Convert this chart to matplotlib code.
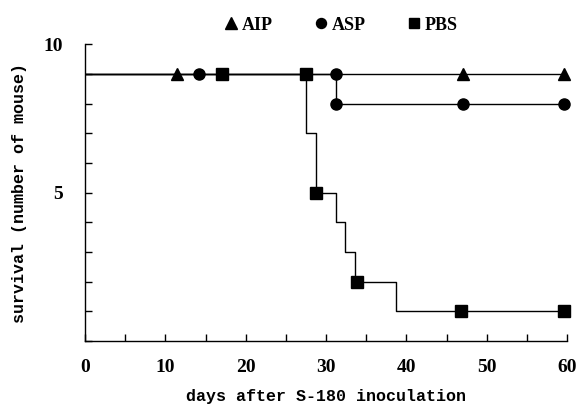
import matplotlib
matplotlib.use("Agg")
import matplotlib.pyplot as plt
from matplotlib.ticker import MultipleLocator

# Step curves (days, number of surviving mice)
aip_times = [0, 60]
aip_surv = [9, 9]
asp_times = [0, 31.2, 60]
asp_surv = [9, 8, 8]
pbs_times = [0, 27.5, 28.7, 31.2, 32.4, 33.6, 38.7, 60]
pbs_surv = [9, 7, 5, 4, 3, 2, 1, 1]

# Marker positions
aip_mark_x = [11.5, 47.0, 59.6]
aip_mark_y = [9, 9, 9]
asp_mark_x = [14.2, 31.2, 31.2, 47.0, 59.6]
asp_mark_y = [9, 9, 8, 8, 8]
pbs_mark_x = [17.1, 27.5, 28.8, 33.8, 46.8, 59.6]
pbs_mark_y = [9, 9, 5, 2, 1, 1]

labels = ["AIP", "ASP", "PBS"]
xticks = [0, 10, 20, 30, 40, 50, 60]
yticks = [5, 10]

fig = plt.figure(figsize=(5.76, 4.19), dpi=100)
ax = fig.add_axes([85/576, 1 - 341/419, (567 - 85)/576, (341 - 44.5)/419])

lw = 1.0
ax.step(aip_times, aip_surv, where="post", color="black", lw=lw)
ax.step(asp_times, asp_surv, where="post", color="black", lw=lw)
ax.step(pbs_times, pbs_surv, where="post", color="black", lw=lw)

h1, = ax.plot(aip_mark_x, aip_mark_y, "^", color="black", ms=9, ls="none", clip_on=False)
h2, = ax.plot(asp_mark_x, asp_mark_y, "o", color="black", ms=8, ls="none", clip_on=False)
h3, = ax.plot(pbs_mark_x, pbs_mark_y, "s", color="black", ms=8.5, ls="none", clip_on=False)

ax.set_xlim(0, 60)
ax.set_ylim(0, 10)
ax.spines["top"].set_visible(False)
ax.spines["right"].set_visible(False)
for s in ["left", "bottom"]:
    ax.spines[s].set_linewidth(1.0)

ax.set_xticks(xticks)
ax.xaxis.set_minor_locator(MultipleLocator(5))
ax.set_yticks(yticks)
ax.yaxis.set_minor_locator(MultipleLocator(1))
ax.tick_params(which="both", direction="in", length=5, width=1.0)
ax.tick_params(axis="x", pad=13)
ax.tick_params(axis="y", pad=16)

for lab in ax.get_xticklabels() + ax.get_yticklabels():
    lab.set_fontfamily("Liberation Serif")
    lab.set_fontweight("bold")
    lab.set_fontsize(14)

ax.set_xlabel("days after S-180 inoculation", family="Liberation Mono",
              weight="bold", fontsize=12, labelpad=9)
ax.set_ylabel("survival (number of mouse)", family="Liberation Mono",
              weight="bold", fontsize=12, labelpad=12)

leg = ax.legend([h1, h2, h3], labels, loc="center", bbox_to_anchor=(0.532, 1.065),
                ncol=3, frameon=False, handlelength=0.7, handletextpad=0.25,
                columnspacing=2.3, markerscale=0.9,
                prop=dict(family="Liberation Serif", weight="bold", size=13))

fig.savefig("out.png", dpi=100)
